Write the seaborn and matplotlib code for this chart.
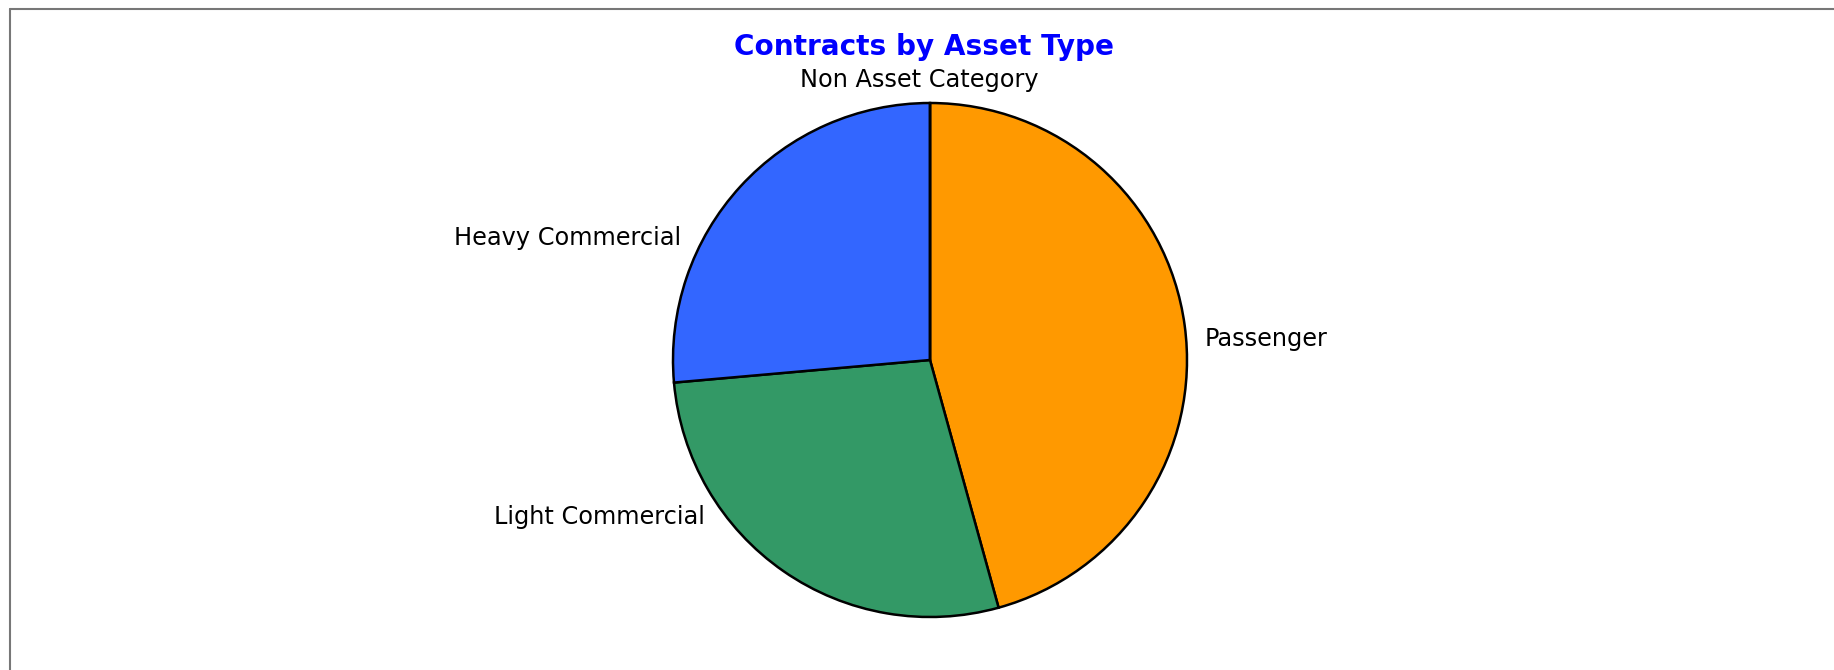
import matplotlib
matplotlib.use("Agg")
import matplotlib.pyplot as plt
import seaborn as sns
from matplotlib.lines import Line2D

categories = ["Passenger", "Light Commercial", "Heavy Commercial", "Non Asset Category"]
values = [45.7, 27.9, 26.4, 0.0]
colors = ["#FF9900", "#339966", "#3366FF", "#DC3912"]
title = "Contracts by Asset Type"

# label anchors (layout, in pie radius units) and alignments
label_pos = [(1.070, 0.082), (-0.875, -0.611), (-0.969, 0.475), (-0.043, 1.089)]
label_ha = ["left", "right", "right", "center"]

sns.set_theme(style="white")
plt.rcParams["font.family"] = ["DejaVu Sans"]

W, H = 1834, 670
fig = plt.figure(figsize=(W / 100, H / 100), dpi=100)
fig.patch.set_facecolor("white")
ax = fig.add_axes([0, 0, 1, 1])

cx, cy, R = 930, 360, 257
palette = sns.color_palette(colors)
wedges, texts = ax.pie(values, labels=categories, colors=palette, startangle=90,
                       counterclock=False, radius=1.0,
                       wedgeprops=dict(edgecolor="black", linewidth=1.8),
                       textprops=dict(fontsize=17.3, color="black"))
for t, p, ha in zip(texts, label_pos, label_ha):
    t.set_position(p)
    t.set_ha(ha)
    t.set_va("center")

ax.set_aspect("equal")
ax.set_xlim(-cx / R, (W - cx) / R)
ax.set_ylim(-(H - cy) / R, cy / R)
ax.axis("off")

fig.text(924 / W, 1 - 47 / H, title, ha="center", va="center",
         fontsize=20.1, fontweight="bold", color="#0000FF")

# outer frame (top and left visible)
fig.lines.append(Line2D([9.5 / W, 1.0], [1 - 8.5 / H, 1 - 8.5 / H], transform=fig.transFigure,
                        color="#777777", linewidth=1.5))
fig.lines.append(Line2D([9.5 / W, 9.5 / W], [0, 1 - 8.5 / H], transform=fig.transFigure,
                        color="#777777", linewidth=1.5))

fig.savefig("out.png", dpi=100, facecolor="white")
